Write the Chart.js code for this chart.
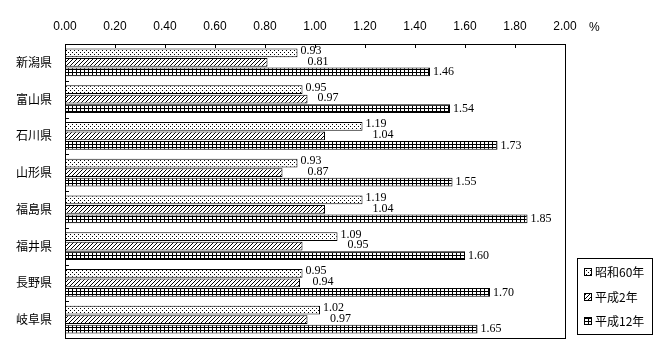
<!DOCTYPE html>
<html><head><meta charset="utf-8">
<script src="https://cdn.jsdelivr.net/npm/chart.js@4"></script>
<style>html,body{margin:0;padding:0;background:#fff}canvas{display:block}</style>
</head><body><canvas id="c" width="670" height="360" style="width:670px;height:360px"></canvas>
<script>
const categories = ['新潟県','富山県','石川県','山形県','福島県','福井県','長野県','岐阜県'];
const seriesNames = ['昭和60年','平成2年','平成12年'];
const valuesS60 = [0.93,0.95,1.19,0.93,1.19,1.09,0.95,1.02];
const valuesH2 = [0.81,0.97,1.04,0.87,1.04,0.95,0.94,0.97];
const valuesH12 = [1.46,1.54,1.73,1.55,1.85,1.60,1.70,1.65];
const xTickMin = 0, xTickMax = 2, xTickStep = 0.2;
const unitLabel = '%';

function makePattern(type){
  const c=document.createElement('canvas');
  const w = 4, h = type==='grid'?3:4;
  c.width=w;c.height=h;
  const g=c.getContext('2d');
  g.fillStyle='#fff';g.fillRect(0,0,w,h);
  g.fillStyle='#000';
  if(type==='dots'){g.fillRect(0,0,1,1);g.fillRect(2,2,1,1);}
  else if(type==='hatch'){g.fillRect(3,0,1,1);g.fillRect(2,1,1,1);g.fillRect(1,2,1,1);g.fillRect(0,3,1,1);}
  else {g.fillRect(0,0,w,1);g.fillRect(0,0,1,h);}
  return g.createPattern(c,'repeat');
}
const ctx0=document.getElementById('c').getContext('2d');
const pats=[makePattern('dots'),makePattern('hatch'),makePattern('grid')];
const seriesValues=[valuesS60,valuesH2,valuesH12];

const extras={
  id:'extras',
  afterDatasetsDraw(chart){
    const {ctx,chartArea:a,scales}=chart;
    ctx.save();
    ctx.strokeStyle='#000';ctx.lineWidth=1;
    ctx.strokeRect(Math.round(a.left)+0.5,Math.round(a.top)+0.5,Math.round(a.right-a.left),Math.round(a.bottom-a.top));
    const xs=scales.x;
    xs.ticks.forEach((t,i)=>{const px=Math.round(xs.getPixelForTick(i))+0.5;ctx.beginPath();ctx.moveTo(px,a.top);ctx.lineTo(px,a.top+4);ctx.stroke();});
    const n=categories.length;const band=(a.bottom-a.top)/n;
    for(let i=1;i<n;i++){const py=Math.round(a.top+band*i)+0.5;ctx.beginPath();ctx.moveTo(a.left,py);ctx.lineTo(a.left+4,py);ctx.stroke();}
    ctx.fillStyle='#000';ctx.font='12px "Liberation Serif"';ctx.textBaseline='middle';ctx.textAlign='left';
    const m0=chart.getDatasetMeta(0);
    chart.data.datasets.forEach((ds,di)=>{
      const meta=chart.getDatasetMeta(di);
      meta.data.forEach((el,i)=>{
        let x=el.x+3,y=el.y;
        if(di===0){y-=2;}
        else if(di===1){x=Math.max(el.x,m0.data[i].x)+10;y-=1;}
        ctx.fillText(ds.data[i].toFixed(2),x,y);
      });
    });
    ctx.font='12px "Liberation Sans"';
    ctx.fillText(unitLabel,589,28);
    const lx=577,ly=258,lw=75,lh=76;
    ctx.strokeRect(lx+0.5,ly+0.5,lw,lh);
    const rows=[272,297,321];
    ctx.font='12px "Noto Sans CJK JP"';
    chart.data.datasets.forEach((ds,di)=>{
      const yy=rows[di];
      ctx.fillStyle=ds.backgroundColor;ctx.fillRect(584,yy-4,8,8);
      ctx.strokeRect(584.5,yy-3.5,7,7);
      ctx.fillStyle='#000';ctx.fillText(ds.label,595,yy);
    });
    ctx.restore();
  }
};

new Chart(ctx0,{
  type:'bar',
  data:{labels:categories,datasets:seriesNames.map((n,i)=>({label:n,data:seriesValues[i],backgroundColor:pats[i],borderColor:'#000',borderWidth:1,borderSkipped:'start',barPercentage:0.92,categoryPercentage:0.78}))},
  options:{
    indexAxis:'y',responsive:false,animation:false,devicePixelRatio:1,
    layout:{padding:{left:0,right:105,top:0,bottom:22}},
    plugins:{legend:{display:false},tooltip:{enabled:false}},
    scales:{
      x:{position:'top',min:xTickMin,max:xTickMax,
        ticks:{stepSize:xTickStep,callback:v=>Number(v).toFixed(2),color:'#000',font:{family:'Liberation Sans',size:12},padding:10,maxRotation:0,autoSkip:false},
        grid:{display:false,drawTicks:false},border:{display:false},
        afterFit(s){s.height=44;}},
      y:{ticks:{color:'#000',font:{family:'Noto Sans CJK JP',size:12},padding:13},
        grid:{display:false,drawTicks:false},border:{display:false},
        afterFit(s){s.width=65;}}
    }
  },
  plugins:[extras]
});
</script></body></html>
